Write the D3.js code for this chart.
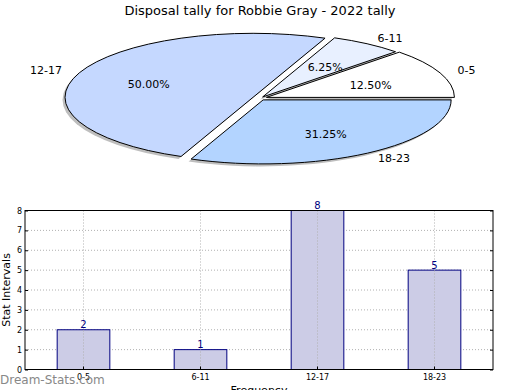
<!DOCTYPE html>
<html><head><meta charset="utf-8">
<script src="https://cdn.jsdelivr.net/npm/d3@7"></script>
<style>body{margin:0;background:#fff}svg{display:block;font-family:"DejaVu Sans",sans-serif}</style>
</head><body>
<svg id="c" width="520" height="390"></svg>
<script>
const title = "Disposal tally for Robbie Gray - 2022 tally";
const categories = ["0-5", "6-11", "12-17", "18-23"];
const counts = [2, 1, 8, 5];
const pieColors = ["#ffffff", "#e8f0ff", "#c5d8ff", "#b3d4ff"];
const explode = [0.037, 0.025, 0.04, 0.03];
const yTicks = [0, 1, 2, 3, 4, 5, 6, 7, 8];
const yLabel = "Stat Intervals";
const xLabel = "Frequency";
const watermark = "Dream-Stats.com";

const svg = d3.select("#c");

svg.append("text").attr("x", 260).attr("y", 15).attr("text-anchor", "middle")
  .attr("font-size", 13).attr("fill", "#000").text(title);

// ---- Pie (elliptical, matplotlib-like, counter-clockwise from 3 o'clock)
const cx = 260, cy = 98.3, rx = 188, ry = 64;
const total = d3.sum(counts);
const pie = d3.pie().sort(null).value(d => d)
  .startAngle(Math.PI / 2).endAngle(Math.PI / 2 - 2 * Math.PI);
const arcs = pie(counts);
const arcGen = d3.arc().innerRadius(0).outerRadius(1);
const mathAng = a => Math.PI / 2 - a;

const pg = svg.append("g");
function wedgeGroup(parent, d, i, dx, dy) {
  const mid = mathAng((d.startAngle + d.endAngle) / 2);
  const ox = explode[i] * Math.cos(mid) * rx + dx;
  const oy = -explode[i] * Math.sin(mid) * ry + dy;
  return parent.append("g")
    .attr("transform", `translate(${cx + ox},${cy + oy}) scale(${rx},${ry})`);
}
const angs = d => ({startAngle: Math.min(d.startAngle, d.endAngle), endAngle: Math.max(d.startAngle, d.endAngle)});
arcs.forEach((d, i) => {
  wedgeGroup(pg, d, i, -2.5, 2.5).append("path")
    .attr("d", arcGen(angs(d))).attr("fill", "#888").attr("opacity", 0.55);
});
arcs.forEach((d, i) => {
  wedgeGroup(pg, d, i, 0, 0).append("path")
    .attr("d", arcGen(angs(d)))
    .attr("fill", pieColors[i]).attr("stroke", "#000")
    .attr("stroke-width", 1).attr("vector-effect", "non-scaling-stroke");
});
arcs.forEach((d, i) => {
  const mid = mathAng((d.startAngle + d.endAngle) / 2);
  const ex = explode[i];
  const c = Math.cos(mid), s = Math.sin(mid);
  const lx = cx + (1.1 + ex) * c * rx;
  const ly = cy - (1.1 + ex) * s * ry;
  pg.append("text").attr("x", lx).attr("y", ly).attr("dy", "0.35em")
    .attr("text-anchor", c < 0 ? "end" : "start").attr("font-size", 11).text(categories[i]);
  const px = cx + (0.6 + ex) * c * rx;
  const py = cy - (0.6 + ex) * s * ry + 2;
  pg.append("text").attr("x", px).attr("y", py).attr("dy", "0.35em")
    .attr("text-anchor", "middle").attr("font-size", 11)
    .text((counts[i] / total * 100).toFixed(2) + "%");
});

// ---- Bar chart
const L = 25, R = 493, T = 210.5, B = 369.5;
const x = d3.scaleBand().domain(categories).range([L, R]).paddingInner(0).paddingOuter(0);
const y = d3.scaleLinear().domain([0, 8]).range([B, T]);
const bw = x.bandwidth() * 0.45;

const bg = svg.append("g");
bg.selectAll(".hg").data(yTicks.slice(1, -1)).join("line")
  .attr("x1", L).attr("x2", R).attr("y1", d => y(d)).attr("y2", d => y(d))
  .attr("stroke", "#b0b0b0").attr("stroke-dasharray", "1,2");
bg.selectAll(".bar").data(categories).join("rect")
  .attr("x", d => x(d) + x.bandwidth() / 2 - bw / 2)
  .attr("y", (d, i) => y(counts[i]))
  .attr("width", bw).attr("height", (d, i) => B - y(counts[i]))
  .attr("fill", "#ccccE6").attr("stroke", "#000080").attr("stroke-width", 1);
bg.selectAll(".vg").data(categories).join("line")
  .attr("x1", d => x(d) + x.bandwidth() / 2).attr("x2", d => x(d) + x.bandwidth() / 2)
  .attr("y1", T).attr("y2", B)
  .attr("stroke", "#b0b0b0").attr("stroke-dasharray", "1,2");
bg.selectAll(".vl").data(categories).join("text")
  .attr("x", d => x(d) + x.bandwidth() / 2)
  .attr("y", (d, i) => y(counts[i]) - 1.5)
  .attr("text-anchor", "middle").attr("font-size", 10).attr("fill", "#000080")
  .text((d, i) => counts[i]);
bg.append("rect").attr("x", L).attr("y", T).attr("width", R - L).attr("height", B - T)
  .attr("fill", "none").attr("stroke", "#000").attr("stroke-width", 1);

const yAxis = d3.axisLeft(y).tickValues(yTicks).tickSize(-3).tickPadding(3);
const ya = bg.append("g").attr("transform", `translate(${L},0)`).call(yAxis);
ya.select(".domain").remove();
ya.selectAll("text").attr("font-size", 8).attr("font-family", "DejaVu Sans");
ya.selectAll("line").attr("stroke", "#000");
const yAxisR = d3.axisRight(y).tickValues(yTicks).tickSize(-3).tickFormat("");
const yr = bg.append("g").attr("transform", `translate(${R},0)`).call(yAxisR);
yr.select(".domain").remove();

const xAxis = d3.axisBottom(x).tickSize(-3).tickPadding(5);
const xa = bg.append("g").attr("transform", `translate(0,${B})`).call(xAxis);
xa.select(".domain").remove();
xa.selectAll("text").attr("font-size", 8).attr("font-family", "DejaVu Sans");

svg.append("text").attr("transform", "translate(10,290) rotate(-90)")
  .attr("text-anchor", "middle").attr("font-size", 11).text(yLabel);
svg.append("text").attr("x", 259).attr("y", 394).attr("text-anchor", "middle")
  .attr("font-size", 11).text(xLabel);
svg.append("text").attr("x", 0).attr("y", 384).attr("font-size", 12)
  .attr("fill", "#888").text(watermark);
</script>
</body></html>
